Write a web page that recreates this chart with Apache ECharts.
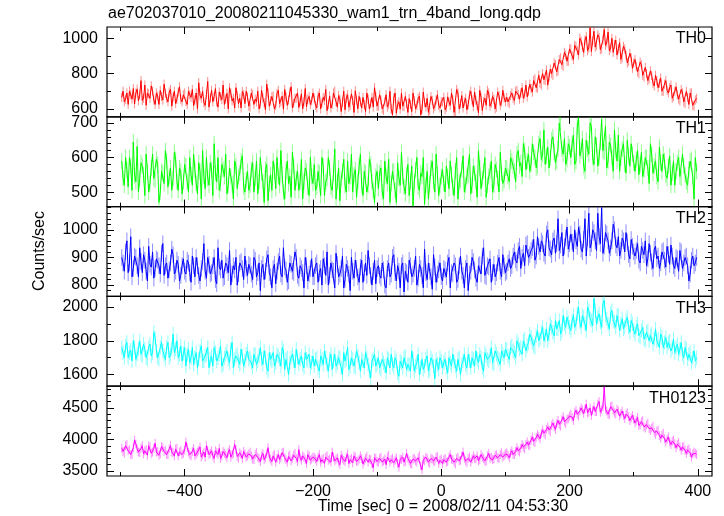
<!DOCTYPE html>
<html>
<head>
<meta charset="utf-8">
<script src="https://cdn.jsdelivr.net/npm/echarts@6/dist/echarts.min.js"></script>
<style>html,body{margin:0;padding:0;background:#fff}#c{width:724px;height:516px}</style>
</head>
<body>
<div id="c"></div>
<script>
// ---- data (count rates) ----
// "A" bins start at T_START, "B" bins start at T_START + T_BIN/2; both every T_BIN seconds
const T_START = -498, T_BIN = 4;
const TH0_A = [
665,640,690,700,655,628,712,680,648,735,690,660,700,625,672,705,650,688,640,710,668,630,695,655,680,
642,700,665,618,690,748,660,635,682,610,705,670,640,695,652,625,688,720,645,605,675,660,698,630,668,
610,682,655,700,628,660,595,690,645,672,618,705,640,598,668,650,725,632,660,608,685,640,612,670,645,
660,605,690,632,648,590,672,625,700,610,655,638,595,680,620,648,702,600,640,665,585,655,630,610,668,
615,650,592,680,625,600,660,575,640,690,612,630,658,585,645,620,672,598,635,660,590,648,615,680,605,
640,595,668,620,652,585,690,630,605,660,625,700,612,648,578,665,640,620,690,632,655,610,675,640,662,
665,630,690,648,705,655,720,682,668,740,695,770,718,745,800,760,735,825,790,850,815,890,840,905,870,
940,880,955,905,985,920,1010,945,925,1040,960,1005,940,1050,975,930,1000,965,905,975,890,940,860,915,830,
880,810,865,790,835,760,815,745,790,720,775,700,760,690,735,670,725,655,710,640,698,625,690,615,660];
const TH0_B = [
700,655,625,680,715,690,645,760,660,620,685,730,650,690,625,670,740,660,695,615,700,655,725,640,690,
625,680,710,650,600,675,700,620,755,660,640,715,610,670,735,655,600,690,660,720,630,605,680,700,615,
690,625,640,600,705,635,740,615,670,600,688,630,672,710,620,695,605,660,690,640,600,715,655,625,690,
620,672,600,665,710,625,605,690,640,675,585,700,660,610,685,580,650,670,605,625,690,600,665,720,615,
680,600,640,610,700,565,690,625,598,615,670,580,625,690,600,660,565,695,610,580,670,600,650,620,640,
665,610,640,690,580,710,600,675,640,595,680,650,695,620,705,590,660,705,615,670,600,695,620,705,640,
640,675,660,700,680,690,660,735,700,715,760,720,790,735,765,820,780,800,860,810,880,850,920,870,940,
900,960,930,1000,950,990,930,1060,985,950,1020,935,990,960,1035,945,920,990,940,880,955,905,870,890,860,
840,800,850,780,800,770,790,730,760,745,700,740,705,720,660,700,680,645,690,630,665,690,620,650];
const TH1_A = [
590,520,565,600,505,548,632,540,575,490,560,525,610,535,580,500,555,620,515,570,540,595,505,560,530,
575,500,550,610,525,585,480,545,600,520,565,640,530,505,580,545,495,570,525,590,510,555,605,500,560,
520,585,540,495,600,530,565,475,550,590,510,545,620,500,560,525,485,575,540,505,595,530,560,490,545,
580,515,555,600,490,540,570,505,625,530,475,560,520,590,545,500,565,530,610,490,555,520,580,505,545,
510,570,480,545,595,525,560,470,540,615,515,550,490,575,530,600,505,545,465,560,525,590,500,550,520,
565,500,545,590,515,560,480,535,605,520,550,495,575,530,620,510,560,485,545,590,520,565,500,555,535,
570,530,590,560,610,575,545,620,590,560,640,600,575,655,610,580,630,600,660,585,625,700,610,580,640,
600,665,590,715,620,575,650,610,690,580,635,600,710,615,570,645,600,680,590,560,625,580,650,575,610,
560,620,580,545,600,570,640,555,590,530,585,610,550,575,520,590,560,600,540,575,530,565,595,480,560];
const TH1_B = [
540,600,515,575,645,530,500,585,550,610,500,570,540,595,470,560,525,590,545,505,615,530,570,495,580,
530,600,520,565,495,560,620,510,540,585,490,555,600,525,565,610,520,545,480,575,545,590,515,535,505,
565,500,590,530,555,470,580,525,505,560,600,520,550,480,590,545,615,505,560,530,480,570,515,600,525,
505,560,490,575,530,600,515,555,480,570,540,595,500,525,610,550,485,575,520,560,500,595,530,470,560,
555,500,590,525,470,560,505,585,520,545,495,580,530,460,565,515,555,600,520,480,570,530,610,490,545,
525,575,510,550,490,600,530,565,500,545,610,520,555,485,570,540,600,520,560,500,580,540,615,525,570,
545,600,575,530,620,585,640,565,610,580,615,570,640,595,680,605,570,650,615,590,700,625,655,595,630,
640,580,690,605,655,560,625,700,600,660,575,645,620,690,590,635,560,620,665,600,640,555,605,640,585,
595,550,615,565,600,525,610,575,545,630,560,590,540,605,555,520,585,545,610,550,520,590,545,600];
const TH2_A = [
900,850,960,880,830,905,870,935,845,890,815,875,920,860,890,840,950,870,825,880,910,850,875,835,895,
840,880,810,870,900,835,860,950,825,875,845,900,805,865,890,830,870,925,840,855,800,880,860,905,835,
870,820,890,845,780,875,850,910,830,860,805,885,840,935,855,815,875,845,900,825,860,790,870,840,895,
830,880,845,800,870,920,835,855,790,875,840,905,820,860,780,850,890,830,865,810,880,925,835,850,805,
870,825,855,790,880,840,910,815,850,870,775,845,890,830,860,800,875,835,930,820,850,785,865,840,880,
815,855,880,790,840,870,820,905,835,860,780,850,885,825,870,840,935,830,865,810,875,845,900,830,870,
850,895,870,920,880,940,900,870,950,910,935,890,975,920,950,905,1000,930,960,915,1040,945,905,970,930,
985,920,960,1010,930,965,905,1060,950,990,925,975,1080,940,985,915,960,1000,935,905,970,920,955,895,940,
905,950,880,925,960,895,915,860,940,905,880,925,865,910,945,870,900,850,920,880,905,815,890,870,900];
const TH2_B = [
880,920,845,975,860,900,830,885,910,850,940,865,825,895,870,915,835,880,855,930,840,890,815,870,850,
890,845,905,830,870,815,885,850,900,840,870,820,935,855,825,880,845,800,870,900,840,885,820,860,875,
840,900,830,880,860,820,895,845,790,875,850,905,830,865,810,880,850,920,835,870,845,900,815,860,830,
870,810,860,895,835,800,880,850,915,830,860,790,875,840,900,825,860,810,890,845,835,870,800,890,860,
835,880,800,860,830,900,845,870,790,880,850,810,870,840,905,825,860,790,845,880,830,910,810,855,830,
860,830,900,845,880,810,870,850,790,880,840,900,855,810,875,905,835,870,895,845,830,880,850,910,845,
880,860,905,890,925,860,915,945,900,925,965,905,940,960,915,985,935,910,970,950,925,990,940,1010,950,
955,1000,940,985,920,1040,970,935,1000,960,1060,950,915,990,960,935,1020,945,975,925,960,990,910,965,920,
925,890,940,910,870,950,885,930,895,860,920,890,940,875,905,860,895,925,860,900,870,840,905,880];
const TH3_A = [
1760,1700,1790,1730,1680,1760,1720,1800,1710,1750,1690,1780,1730,1820,1700,1760,1740,1690,1790,1720,1840,1750,1700,1770,1725,
1650,1750,1700,1660,1730,1690,1770,1680,1720,1640,1710,1760,1680,1720,1650,1700,1740,1670,1790,1690,1720,1660,1710,1680,1740,
1700,1640,1720,1680,1760,1660,1700,1620,1690,1730,1670,1710,1650,1740,1690,1600,1700,1680,1750,1660,1710,1640,1690,1720,1670,
1650,1700,1620,1690,1740,1660,1690,1630,1720,1670,1700,1600,1680,1760,1650,1690,1640,1710,1620,1680,1730,1660,1580,1690,1650,
1700,1630,1670,1610,1690,1720,1640,1680,1590,1670,1700,1630,1660,1740,1620,1670,1600,1690,1650,1710,1630,1680,1575,1660,1700,
1640,1690,1610,1670,1720,1650,1690,1600,1680,1660,1720,1640,1690,1740,1670,1700,1620,1710,1680,1760,1660,1720,1690,1740,1700,
1750,1690,1770,1730,1800,1750,1720,1810,1770,1840,1790,1760,1860,1810,1880,1830,1800,1900,1850,1920,1870,1840,1950,1880,1910,
1860,1950,1900,2000,1880,1940,1860,1980,1920,2050,1900,1960,1880,2040,1930,1870,1980,1910,1950,1860,1930,1880,1940,1850,1900,
1840,1900,1820,1880,1800,1860,1830,1780,1870,1810,1840,1760,1820,1790,1740,1810,1760,1720,1790,1700,1750,1720,1670,1740,1700];
const TH3_B = [
1730,1770,1700,1745,1800,1690,1750,1720,1780,1700,1760,1710,1850,1740,1690,1790,1715,1760,1700,1750,1730,1800,1720,1680,1760,
1720,1670,1760,1700,1640,1740,1680,1710,1760,1690,1650,1730,1700,1770,1660,1720,1690,1750,1640,1710,1680,1750,1650,1720,1690,
1670,1720,1660,1710,1690,1740,1640,1730,1680,1650,1720,1690,1760,1630,1700,1670,1720,1640,1700,1690,1660,1730,1680,1640,1710,
1690,1640,1710,1660,1700,1620,1720,1680,1650,1700,1640,1730,1690,1630,1700,1650,1740,1670,1690,1640,1700,1620,1680,1720,1660,
1640,1690,1650,1700,1640,1660,1700,1610,1680,1640,1710,1660,1620,1690,1650,1720,1640,1630,1690,1620,1700,1650,1690,1630,1680,
1670,1640,1700,1650,1680,1620,1700,1660,1720,1640,1680,1700,1650,1690,1720,1640,1730,1690,1710,1670,1740,1700,1660,1720,1750,
1710,1760,1740,1700,1780,1760,1800,1740,1790,1820,1770,1830,1800,1850,1800,1870,1840,1880,1830,1870,1920,1860,1900,1940,1880,
1920,1880,1960,1910,1950,1900,2000,1930,1890,1980,1940,1910,2020,1950,1900,1960,1920,1880,1950,1900,1870,1920,1880,1920,1860,
1880,1830,1860,1810,1850,1800,1840,1810,1800,1760,1820,1790,1760,1800,1760,1730,1780,1750,1720,1760,1690,1730,1700,1680];
const TH0123_A = [
3860,3780,3920,3840,3760,3990,3850,3790,3900,3820,3750,3880,3800,3940,3810,3770,3870,3830,3760,3900,3790,3850,3740,3820,3780,
3960,3800,3740,3860,3770,3830,3720,3800,3900,3760,3820,3700,3790,3860,3740,3780,3710,3840,3760,3920,3730,3790,3700,3770,3740,
3800,3690,3760,3720,3650,3780,3710,3870,3690,3740,3640,3760,3710,3800,3680,3730,3660,3750,3700,3840,3670,3720,3620,3740,3690,
3720,3650,3760,3680,3620,3740,3690,3800,3660,3710,3600,3700,3650,3770,3680,3630,3720,3660,3740,3610,3700,3640,3680,3550,3700,
3640,3720,3660,3600,3750,3680,3630,3710,3560,3680,3640,3780,3660,3610,3700,3640,3740,3520,3660,3700,3620,3690,3650,3730,3670,
3620,3700,3650,3760,3680,3610,3720,3670,3800,3660,3700,3640,3740,3690,3660,3760,3700,3650,3780,3720,3690,3760,3700,3790,3740,
3790,3710,3820,3760,3870,3800,3920,3850,3960,3900,4040,3950,4080,4010,4150,4070,4200,4120,4260,4160,4300,4210,4360,4250,4330,
4400,4300,4460,4370,4500,4410,4560,4430,4380,4520,4440,4600,4470,4830,4450,4390,4530,4420,4480,4370,4450,4330,4420,4300,4380,
4260,4350,4230,4300,4180,4260,4140,4210,4080,4150,4020,4100,3960,4040,3920,3990,3870,3950,3830,3890,3780,3850,3720,3800,3760];
const TH0123_B = [
3810,3900,3820,3760,3870,3930,3800,3860,3770,3840,3900,3780,3860,3800,3750,3890,3810,3760,3850,3800,3740,3860,3800,3760,3830,
3870,3760,3810,3740,3800,3880,3760,3720,3830,3780,3740,3820,3760,3700,3810,3750,3800,3720,3780,3840,3700,3760,3810,3720,3770,
3740,3680,3790,3700,3740,3680,3770,3720,3650,3760,3700,3680,3790,3710,3640,3760,3700,3780,3650,3710,3740,3680,3760,3670,3720,
3690,3720,3640,3700,3720,3670,3640,3720,3690,3640,3750,3670,3720,3620,3700,3740,3650,3690,3700,3660,3730,3690,3620,3710,3650,
3700,3640,3690,3720,3640,3700,3670,3620,3690,3720,3650,3700,3620,3690,3660,3710,3580,3680,3720,3640,3700,3660,3720,3620,3690,
3680,3640,3720,3690,3640,3700,3660,3740,3700,3630,3720,3690,3700,3740,3680,3720,3660,3740,3700,3680,3750,3710,3760,3720,3770,
3750,3780,3760,3810,3820,3860,3880,3920,3910,3990,3970,4030,4050,4100,4100,4160,4150,4220,4200,4250,4240,4310,4280,4320,4370,
4350,4420,4400,4450,4470,4480,4420,4500,4460,4440,4560,4430,4520,4480,4400,4520,4460,4400,4450,4410,4380,4400,4360,4340,4320,
4300,4220,4280,4200,4230,4170,4180,4110,4130,4060,4070,4010,4000,3960,3970,3930,3920,3880,3880,3830,3830,3790,3770,3780];
// typical 1-sigma error bar half-length per band (counts/sec)
const ERRORS = [26, 23, 30, 42, 70];

// ---- tick labels ----
const X_MAJOR = [-400,-200,0,200,400];
const X_MINOR = [-500,-300,-100,100,300];
const Y_MAJOR = [[600,800,1000],[500,600,700],[800,900,1000],[1600,1800,2000],[3500,4000,4500]];
const Y_MINOR = [
  [700,900],
  [460,480,520,540,560,580,620,640,660,680],
  [760,780,820,840,860,880,920,940,960,980,1020,1040,1060,1080],
  [1700,1900],
  [3600,3700,3800,3900,4100,4200,4300,4400,4600,4700,4800]];
const NAMES = ['TH0','TH1','TH2','TH3','TH0123'];
const BANDS_A = [TH0_A,TH1_A,TH2_A,TH3_A,TH0123_A];
const BANDS_B = [TH0_B,TH1_B,TH2_B,TH3_B,TH0123_B];
const COLORS = ['#ff0000','#00ff00','#0000ff','#00ffff','#ff00ff'];
const Y_RANGE = [[555,1064],[458,718],[759,1084],[1531,2063],[3421,4843]];
const X_RANGE = [-521,422];

function merge(a, b) {
  const out = [];
  for (let j = 0; j < a.length; j++) {
    out.push([T_START + j * T_BIN, a[j]]);
    if (j < b.length) out.push([T_START + T_BIN / 2 + j * T_BIN, b[j]]);
  }
  return out;
}

const FONT = '"Liberation Sans", Arial, Helvetica, sans-serif';
const TOP = 27, H = 89.8, LEFT = 107, RIGHT = 12;

const grids = [], xAxes = [], yAxes = [], series = [], graphics = [];
function fmt(v){ return String(v).replace('-', '\u2212'); }
function mkAxis(gi, pos, vals, len, labels, isY){
  return {
    type:'value', gridIndex:gi, position:pos,
    min: isY ? Y_RANGE[gi][0] : X_RANGE[0],
    max: isY ? Y_RANGE[gi][1] : X_RANGE[1],
    axisLine:{show:false, onZero:false},
    splitLine:{show:false}, minorTick:{show:false},
    axisTick:{show:true, inside:true, length:len, customValues:vals, lineStyle:{color:'#000', width:1}},
    axisLabel: labels ? {show:true, customValues:vals, color:'#000', fontSize:16, fontFamily:FONT, margin: isY?9:8, formatter:fmt} : {show:false}
  };
}
for (let i = 0; i < 5; i++) {
  grids.push({left:LEFT, right:RIGHT, top:TOP + i*H, height:H, show:true, borderColor:'#000', borderWidth:1.2, backgroundColor:'transparent'});
  const xb = xAxes.length;
  xAxes.push(mkAxis(i,'bottom',X_MAJOR,7,i===4,false));
  xAxes.push(mkAxis(i,'bottom',X_MINOR,4,false,false));
  xAxes.push(mkAxis(i,'top',X_MAJOR,7,false,false));
  xAxes.push(mkAxis(i,'top',X_MINOR,4,false,false));
  const yb = yAxes.length;
  yAxes.push(mkAxis(i,'left',Y_MAJOR[i],7,true,true));
  yAxes.push(mkAxis(i,'left',Y_MINOR[i],4,false,true));
  yAxes.push(mkAxis(i,'right',Y_MAJOR[i],7,false,true));
  yAxes.push(mkAxis(i,'right',Y_MINOR[i],4,false,true));
  const pts = merge(BANDS_A[i], BANDS_B[i]);
  const err = ERRORS[i], col = COLORS[i];
  series.push({type:'custom', xAxisIndex:xb, yAxisIndex:yb, clip:true, silent:true, z:1,
    data: pts.map(p => [p[0], p[1], err]),
    renderItem: function(params, api){
      const x = api.value(0), y = api.value(1), e = api.value(2);
      const p1 = api.coord([x, y - e]), p2 = api.coord([x, y + e]);
      return {type:'line', shape:{x1:p1[0], y1:p1[1], x2:p2[0], y2:p2[1]},
        style:{stroke:col, lineWidth:1, opacity:0.45}};
    }});
  series.push({type:'line', xAxisIndex:xb, yAxisIndex:yb, data:pts, symbol:'none', silent:true,
    lineStyle:{width:1, color:col}, z:2});
  graphics.push({type:'text', x:706, y:TOP + i*H + 12, z:10,
    style:{text:NAMES[i], fill:'#000', font:'16px ' + FONT, align:'right', verticalAlign:'middle'}});
}
graphics.push({type:'text', x:108, y:14, style:{text:'ae702037010_20080211045330_wam1_trn_4band_long.qdp', fill:'#000', font:'16px ' + FONT, align:'left', verticalAlign:'middle'}});
graphics.push({type:'text', x:40, y:251, rotation:Math.PI/2, style:{text:'Counts/sec', fill:'#000', font:'16px ' + FONT, align:'center', verticalAlign:'middle'}});
graphics.push({type:'text', x:443, y:507, style:{text:'Time [sec] 0 = 2008/02/11 04:53:30', fill:'#000', font:'16px ' + FONT, align:'center', verticalAlign:'middle'}});

const chart = echarts.init(document.getElementById('c'), null, {renderer:'canvas'});
chart.setOption({animation:false, backgroundColor:'#fff', grid:grids, xAxis:xAxes, yAxis:yAxes, series:series, graphic:graphics});
</script>
</body>
</html>
